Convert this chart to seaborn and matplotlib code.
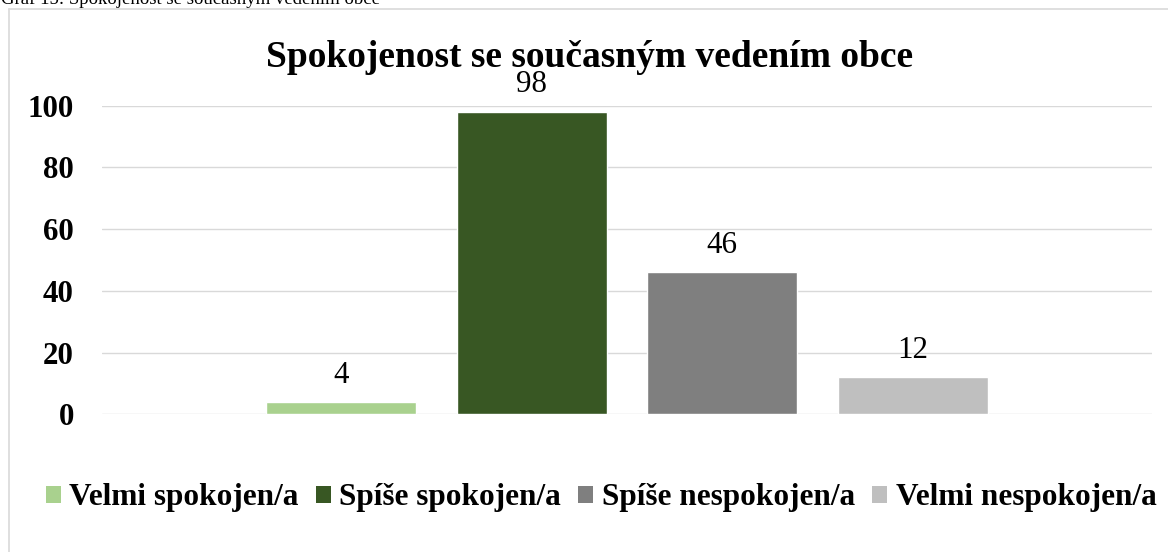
import matplotlib
matplotlib.use("Agg")
import matplotlib.pyplot as plt
from matplotlib.patches import Patch
from matplotlib.lines import Line2D
import seaborn as sns
import pandas as pd

# ---- data ----
categories = ["Velmi spokojen/a", "Spíše spokojen/a", "Spíše nespokojen/a", "Velmi nespokojen/a"]
values = [4, 98, 46, 12]
colors = ["#A9D18E", "#385723", "#7F7F7F", "#BFBFBF"]
yticks = [0, 20, 40, 60, 80, 100]
title = "Spokojenost se současným vedením obce"
caption = "Graf 15: Spokojenost se současným vedením obce"

sns.set_theme(style="white")
plt.rcParams["font.family"] = ["Liberation Serif", "DejaVu Serif"]
plt.rcParams["text.color"] = "black"

W, H = 1168, 552
fig = plt.figure(figsize=(W / 100, H / 100), dpi=100)
fig.patch.set_facecolor("white")

def fx(px):
    return px / W

def fy(py):
    return 1 - py / H

ax_left, ax_right, ax_top, ax_bottom = 101.7, 1151.7, 105.7, 414.3
ax = fig.add_axes([fx(ax_left), fy(ax_bottom), fx(ax_right - ax_left), (ax_bottom - ax_top) / H])

df = pd.DataFrame({"cat": categories, "val": values})
sns.barplot(data=df, x="cat", y="val", hue="cat", palette=colors, order=categories,
            hue_order=categories, width=0.788, legend=False, ax=ax, saturation=1)

ax.set_xlim(-1.259, 4.255)
ax.set_ylim(0, 100)
ax.set_yticks(yticks)
ax.set_yticklabels([str(t) for t in yticks], fontsize=22.3, fontweight="bold", color="black")
ax.set_xticks([])
ax.set_xlabel("")
ax.set_ylabel("")
ax.tick_params(axis="y", length=0, pad=20)
ax.grid(axis="y", color="#D9D9D9", linewidth=1.0)
ax.set_axisbelow(True)
for s in ax.spines.values():
    s.set_visible(False)
ax.set_facecolor("white")

for p, v in zip(ax.patches, values):
    ax.annotate(str(v), (p.get_x() + p.get_width() / 2, p.get_height()),
                xytext=(0, 14), textcoords="offset points", ha="center", va="baseline",
                fontsize=22.3, color="black", annotation_clip=False)

# title
fig.text(fx(590), fy(67), title, ha="center", va="baseline", fontsize=27,
         fontweight="bold", color="black")

# caption clipped at the top
fig.text(fx(1), fy(4), caption, ha="left", va="baseline", fontsize=13.5, color="black")

# chart border (partially visible)
fig.add_artist(Line2D([fx(8.5), fx(8.5)], [fy(8.5), fy(560)], color="#D9D9D9", lw=1.2,
                      transform=fig.transFigure))
fig.add_artist(Line2D([fx(8.5), fx(1175)], [fy(8.5), fy(8.5)], color="#D9D9D9", lw=1.2,
                      transform=fig.transFigure))

# legend
handles = [Patch(facecolor=c, edgecolor="none") for c in colors]
fig.legend(handles, categories, loc="center", bbox_to_anchor=(fx(601), fy(498)), ncol=4,
           frameon=False, prop={"family": "Liberation Serif", "weight": "bold", "size": 22.5},
           labelcolor="black",
           handlelength=0.48, handleheight=0.48, handletextpad=0.28, columnspacing=0.54,
           borderpad=0, borderaxespad=0)

fig.savefig("out.png", dpi=100, facecolor="white")
